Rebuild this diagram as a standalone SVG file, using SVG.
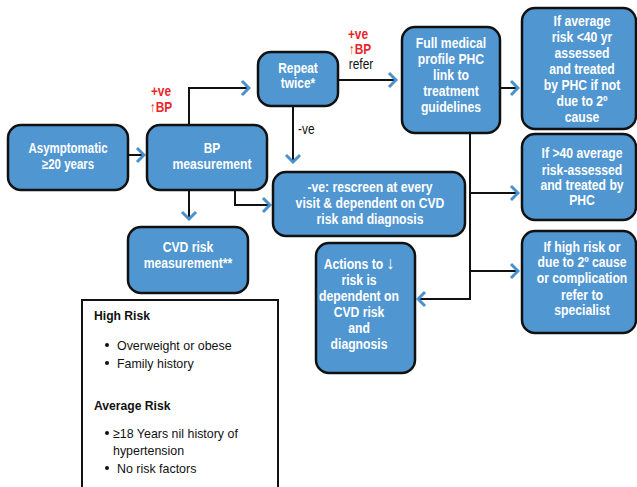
<svg xmlns="http://www.w3.org/2000/svg" width="637" height="487" viewBox="0 0 637 487">
<defs>
<style>
.box{fill:#5096d1;stroke:#111;stroke-width:2.5}
.t{font-family:"Liberation Sans",Arial,sans-serif;font-weight:bold;font-size:14px;fill:#fff;text-anchor:middle}
.c{fill:none;stroke:#111;stroke-width:2}
.red{font-family:"Liberation Sans",Arial,sans-serif;font-weight:bold;font-size:14px;fill:#e8252a;text-anchor:middle}
.blk{font-family:"Liberation Sans",Arial,sans-serif;font-size:14px;fill:#111}
.lt{font-family:"Liberation Sans",Arial,sans-serif;font-size:13.5px;fill:#111}
.lh{font-family:"Liberation Sans",Arial,sans-serif;font-size:13.5px;font-weight:bold;fill:#111}
</style>
<marker id="chev" viewBox="-10 -10 12 20" refX="0" refY="0" markerWidth="12" markerHeight="20" markerUnits="userSpaceOnUse" orient="auto">
<path d="M-7,-7 L0,0 L-7,7" fill="none" stroke="#4a90cc" stroke-width="3"/>
</marker>
</defs>
<rect width="637" height="487" fill="#fff"/>
<g id="connectors">
<path class="c" d="M128,155 H144" marker-end="url(#chev)"/>
<path class="c" d="M189,125 V88 H249" marker-end="url(#chev)"/>
<path class="c" d="M293,106 V162" marker-end="url(#chev)"/>
<path class="c" d="M338,80 H396" marker-end="url(#chev)"/>
<path class="c" d="M500,88 H518" marker-end="url(#chev)"/>
<path class="c" d="M470,133 V299 H418" marker-end="url(#chev)"/>
<path class="c" d="M470,193 H518" marker-end="url(#chev)"/>
<path class="c" d="M470,271 H518" marker-end="url(#chev)"/>
<path class="c" d="M189,190 V219" marker-end="url(#chev)"/>
<path class="c" d="M235,190 V205 H270" marker-end="url(#chev)"/>
<text class="red" transform="translate(161,96) scale(0.85,1)">+ve</text>
<text class="red" transform="translate(161,112) scale(0.85,1)"><tspan font-weight="normal">↑</tspan>BP</text>
<text class="blk" transform="translate(298,134) scale(0.85,1)">-ve</text>
<text class="red" transform="translate(358,39) scale(0.85,1)">+ve</text>
<text class="red" transform="translate(360,54) scale(0.85,1)"><tspan font-weight="normal">↑</tspan>BP</text>
<text class="blk" transform="translate(361,69) scale(0.85,1)" text-anchor="middle">refer</text>
</g>
<g id="asymptomatic">
<rect class="box" x="8" y="125" width="120" height="65" rx="13"/>
<text class="t" transform="translate(68,153) scale(0.82,1)">Asymptomatic</text>
<text class="t" transform="translate(68,169) scale(0.82,1)">≥20 years</text>
</g>
<g id="bp">
<rect class="box" x="147" y="125" width="120" height="65" rx="13"/>
<text class="t" transform="translate(212,153) scale(0.85,1)">BP</text>
<text class="t" transform="translate(212,169) scale(0.87,1)">measurement</text>
</g>
<g id="repeat">
<rect class="box" x="258" y="52" width="80" height="54" rx="13"/>
<text class="t" transform="translate(298,73) scale(0.85,1)">Repeat</text>
<text class="t" transform="translate(298,88) scale(0.85,1)">twice*</text>
</g>
<g id="fullmedical">
<rect class="box" x="402" y="27" width="98" height="106" rx="13"/>
<text class="t" transform="translate(451,48) scale(0.87,1)">Full medical</text>
<text class="t" transform="translate(451,64) scale(0.87,1)">profile PHC</text>
<text class="t" transform="translate(451,80) scale(0.87,1)">link to</text>
<text class="t" transform="translate(451,96) scale(0.87,1)">treatment</text>
<text class="t" transform="translate(451,112) scale(0.87,1)">guidelines</text>
</g>
<g id="average">
<rect class="box" x="522" y="8" width="114" height="121" rx="13"/>
<text class="t" transform="translate(582,26) scale(0.87,1)">If average</text>
<text class="t" transform="translate(582,42) scale(0.87,1)">risk &lt;40 yr</text>
<text class="t" transform="translate(582,58) scale(0.87,1)">assessed</text>
<text class="t" transform="translate(582,74) scale(0.87,1)">and treated</text>
<text class="t" transform="translate(582,90) scale(0.87,1)">by PHC if not</text>
<text class="t" transform="translate(582,106) scale(0.87,1)">due to 2º</text>
<text class="t" transform="translate(582,122) scale(0.87,1)">cause</text>
</g>
<g id="over40">
<rect class="box" x="522" y="134" width="114" height="86" rx="13"/>
<text class="t" transform="translate(582,158) scale(0.87,1)">If &gt;40 average</text>
<text class="t" transform="translate(582,175) scale(0.87,1)">risk-assessed</text>
<text class="t" transform="translate(582,190) scale(0.87,1)">and treated by</text>
<text class="t" transform="translate(582,205) scale(0.87,1)">PHC</text>
</g>
<g id="highrisk">
<rect class="box" x="522" y="231" width="114" height="102" rx="13"/>
<text class="t" transform="translate(582,252) scale(0.87,1)">If high risk or</text>
<text class="t" transform="translate(582,267) scale(0.87,1)">due to 2º cause</text>
<text class="t" transform="translate(582,283) scale(0.87,1)">or complication</text>
<text class="t" transform="translate(582,300) scale(0.87,1)">refer to</text>
<text class="t" transform="translate(582,315) scale(0.87,1)">specialist</text>
</g>
<g id="rescreen">
<rect class="box" x="273" y="172" width="192" height="64" rx="13"/>
<text class="t" transform="translate(370,192) scale(0.87,1)">-ve: rescreen at every</text>
<text class="t" transform="translate(370,208) scale(0.87,1)">visit &amp; dependent on CVD</text>
<text class="t" transform="translate(370,224) scale(0.87,1)">risk and diagnosis</text>
</g>
<g id="actions">
<rect class="box" x="316" y="243" width="99" height="130" rx="13"/>
<text class="t" transform="translate(359,269) scale(0.87,1)">Actions to <tspan font-weight="normal" font-size="18">↓</tspan></text>
<text class="t" transform="translate(359,285) scale(0.87,1)">risk is</text>
<text class="t" transform="translate(359,301) scale(0.87,1)">dependent on</text>
<text class="t" transform="translate(359,317) scale(0.87,1)">CVD risk</text>
<text class="t" transform="translate(359,333) scale(0.87,1)">and</text>
<text class="t" transform="translate(359,349) scale(0.87,1)">diagnosis</text>
</g>
<g id="cvd">
<rect class="box" x="128" y="227" width="120" height="66" rx="13"/>
<text class="t" transform="translate(188,252) scale(0.87,1)">CVD risk</text>
<text class="t" transform="translate(188,268) scale(0.87,1)">measurement**</text>
</g>
<g id="riskbox">
<rect x="82" y="300" width="196" height="200" fill="#fff" stroke="#111" stroke-width="2"/>
<text class="lh" transform="translate(94,320) scale(0.9,1)">High Risk</text>
<circle cx="107" cy="345" r="2" fill="#111"/>
<text class="lt" transform="translate(117,350) scale(0.92,1)">Overweight or obese</text>
<circle cx="107" cy="363" r="2" fill="#111"/>
<text class="lt" transform="translate(117,368) scale(0.92,1)">Family history</text>
<text class="lh" transform="translate(94,410) scale(0.9,1)">Average Risk</text>
<circle cx="107" cy="433" r="2" fill="#111"/>
<text class="lt" transform="translate(113,438) scale(0.92,1)">≥18 Years nil history of</text>
<text class="lt" transform="translate(113,455) scale(0.92,1)">hypertension</text>
<circle cx="107" cy="468" r="2" fill="#111"/>
<text class="lt" transform="translate(117,473) scale(0.92,1)">No risk factors</text>
</g>
</svg>
